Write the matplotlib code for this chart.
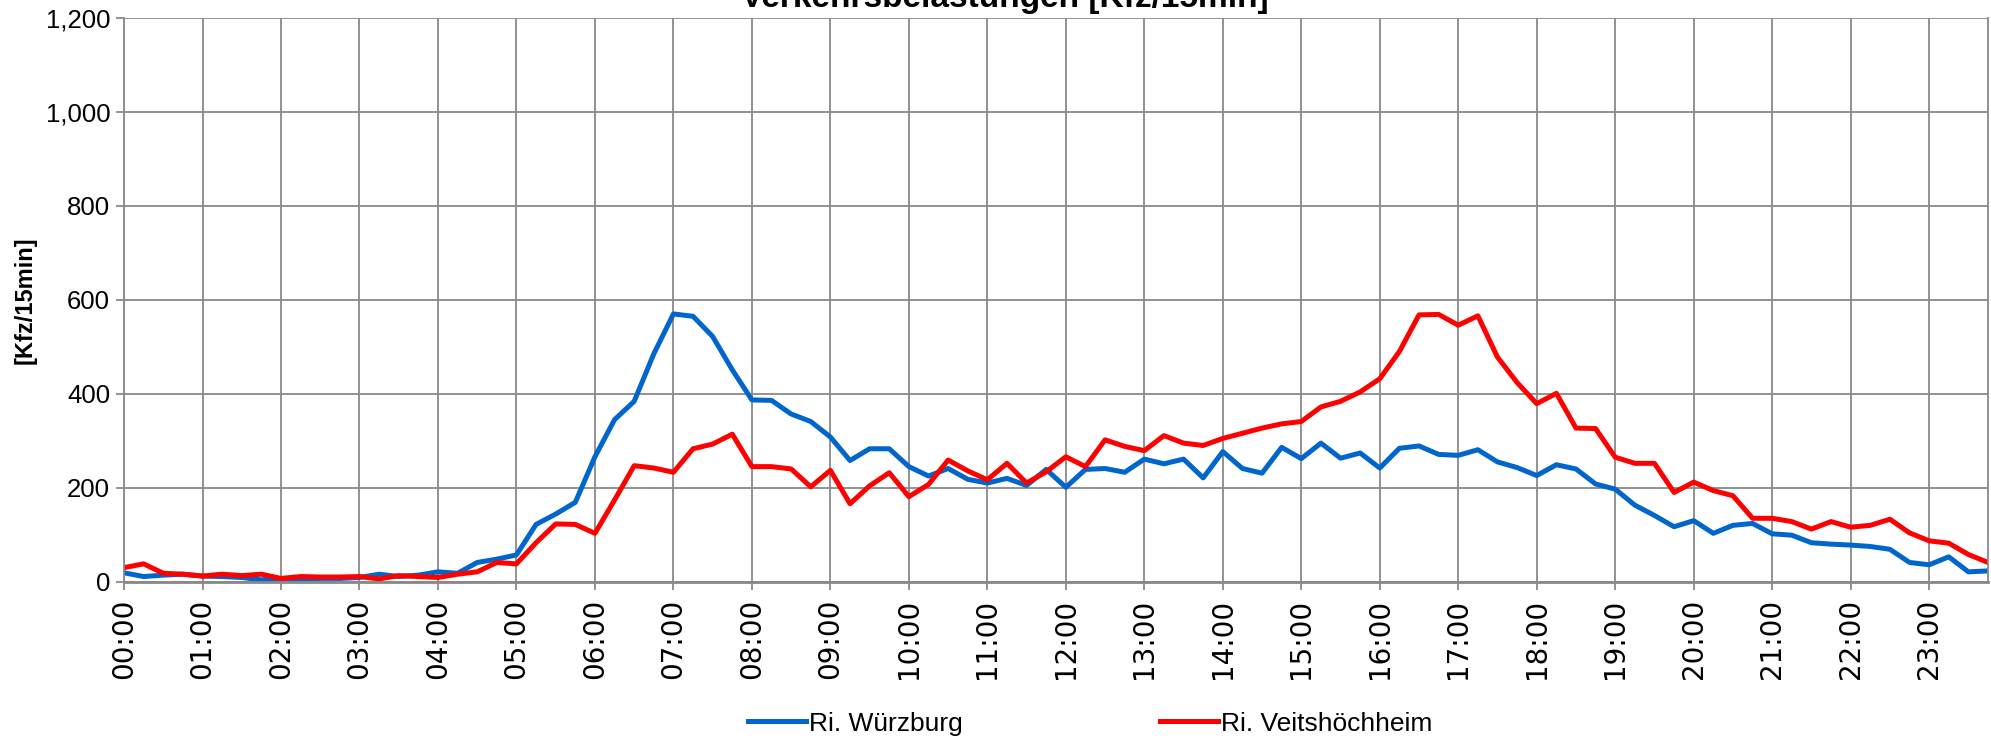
import matplotlib
matplotlib.use('Agg')
import matplotlib.pyplot as plt
from matplotlib.ticker import FuncFormatter, MultipleLocator

# 15-min slots, 00:00 .. 23:45
hour_labels = ['%02d:00' % h for h in range(24)]

wuerzburg = [19, 11, 14, 16, 12, 11, 9, 4, 7, 5, 7, 7, 9, 16, 11, 14,
             21, 18, 41, 48, 57, 122, 144, 169, 266, 345, 384, 485, 570, 565, 522, 451,
             387, 386, 357, 341, 308, 258, 283, 283, 245, 225, 241, 218, 210, 220, 205, 239,
             201, 239, 241, 233, 261, 251, 261, 221, 277, 241, 231, 286, 262, 295, 263, 274,
             242, 284, 289, 271, 269, 281, 255, 243, 226, 249, 240, 208, 197, 163, 141, 117,
             130, 103, 120, 124, 102, 99, 83, 80, 78, 75, 69, 41, 36, 53, 21, 23]

veitshoechheim = [30, 38, 18, 16, 12, 16, 13, 16, 7, 11, 10, 10, 11, 6, 13, 11,
                  9, 16, 21, 41, 38, 83, 123, 122, 103, 174, 247, 242, 233, 283, 293, 314,
                  245, 245, 240, 202, 237, 166, 204, 232, 181, 207, 259, 236, 217, 252, 210, 234,
                  266, 245, 302, 288, 279, 311, 295, 290, 305, 316, 327, 336, 341, 372, 384, 404,
                  432, 490, 568, 569, 546, 566, 478, 424, 379, 401, 327, 326, 265, 252, 252, 190,
                  212, 194, 183, 135, 135, 128, 112, 128, 116, 120, 133, 104, 87, 82, 58, 41]

plt.rcParams['font.family'] = ['Liberation Sans', 'DejaVu Sans']
grid_col = '#898989'

fig = plt.figure(figsize=(19.91, 7.40), dpi=100)
ax = fig.add_axes([0.0623, 0.2139, 0.9362, 0.7618])

x = list(range(len(wuerzburg)))
ax.plot(x, wuerzburg, color='#0066CC', lw=3.6, label='Ri. Würzburg')
ax.plot(x, veitshoechheim, color='#FF0000', lw=3.6, label='Ri. Veitshöchheim')

ax.set_xlim(0, 95)
ax.set_ylim(0, 1200)
ax.set_xticks(range(0, 96, 4))
ax.set_xticklabels(hour_labels, rotation=90, fontsize=20, family='DejaVu Sans')
ax.yaxis.set_major_locator(MultipleLocator(200))
ax.yaxis.set_major_formatter(FuncFormatter(lambda v, p: '{:,.0f}'.format(v)))
ax.tick_params(axis='y', labelsize=18.5, length=6, color=grid_col, width=1.3, pad=4)
ax.tick_params(axis='x', length=6, color=grid_col, width=1.3, pad=6)

ax.grid(True, color=grid_col, lw=1.3)
ax.set_axisbelow(True)
for s in ax.spines.values():
    s.set_color(grid_col)
    s.set_linewidth(1.3)
ax.spines['top'].set_visible(False)
ax.spines['bottom'].set_linewidth(2)

ax.set_ylabel('[Kfz/15min]', fontsize=17, fontweight='bold')
ax.yaxis.set_label_coords(-0.047, 0.5)

# title sits mostly above the canvas, as in the original export
fig.text(0.5045, 0.991, 'Verkehrsbelastungen [Kfz/15min]', ha='center', va='baseline',
         fontsize=24, fontweight='bold')

fig.legend(loc='center', bbox_to_anchor=(0.5475, 0.022), ncol=2, frameon=False,
           fontsize=19, handlelength=2.2, handletextpad=0.1, columnspacing=7.5)

fig.savefig('out.png', dpi=100)
